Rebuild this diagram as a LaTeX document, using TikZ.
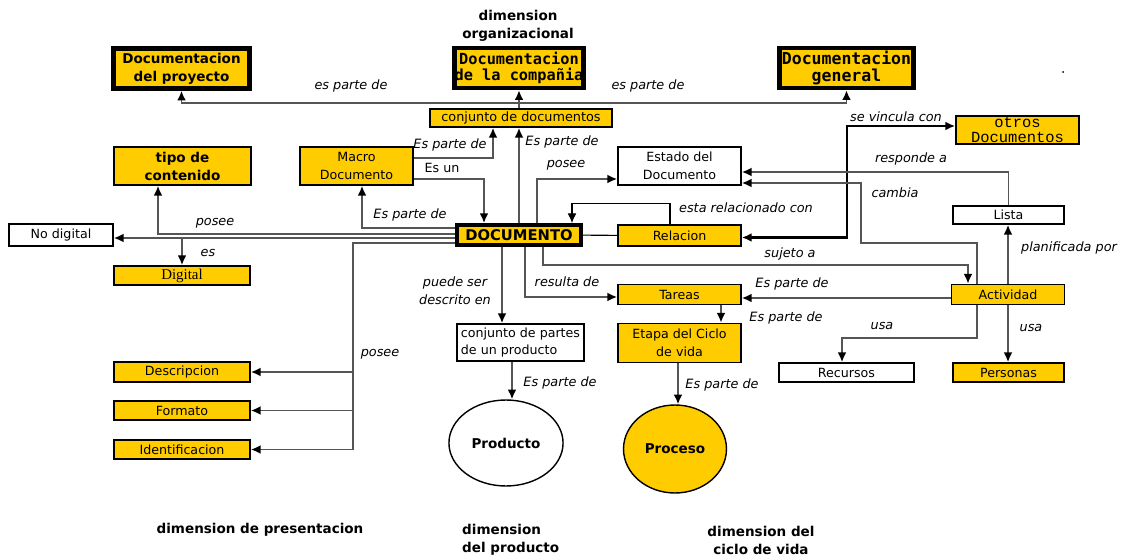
\documentclass[tikz,border=0pt]{standalone}
\usepackage{fontspec}
\setmainfont{DejaVu Sans}
\newfontfamily\monoancha{DejaVu Sans Mono}
\newfontfamily\monocour{Liberation Mono}
\newfontfamily\serifdig{Liberation Serif}
\usetikzlibrary{arrows.meta,shapes.geometric}
\definecolor{amarillo}{HTML}{FFCC00}
\definecolor{gristrazo}{HTML}{555555}
\newcommand{\letranormal}{\fontsize{7.2}{10}\selectfont}
\newcommand{\letrarel}{\fontsize{7.3}{10}\selectfont\itshape}
\newcommand{\letratit}{\fontsize{7.7}{10.2}\selectfont\bfseries}

\begin{document}
\begin{tikzpicture}[x=0.02cm,y=-0.02cm,font=\letranormal]
\tikzset{caja/.style={draw, fill=amarillo, line width=1pt, inner sep=0pt, align=center},
  blanca/.style={draw, fill=white, line width=1pt, inner sep=0pt, align=center},
  gruesa/.style={draw, fill=amarillo, line width=2.6pt, inner sep=0pt, align=center},
  rel/.style={font=\letrarel, inner sep=1pt},
  titdim/.style={font=\letratit, align=center},
  traza/.style={draw=gristrazo, line width=1pt},
  flecha/.style={traza, -{Latex[length=5.5pt,width=5pt,color=black]}},
  enlace/.style={draw=black, line width=0.6pt, -{Latex[length=5.5pt,width=5pt]}}}
\useasboundingbox (0,0) rectangle (1123,557);

\node[gruesa, minimum width=2.72cm, minimum height=0.8cm, font=\letratit] (proyecto) at (181.5,68.5) {Documentacion\\del proyecto};
\node[gruesa, minimum width=2.54cm, minimum height=0.8cm, font=\fontsize{8.7}{9.5}\selectfont\monoancha\bfseries] (compania) at (519,68) {Documentacion\\de la compañia};
\node[gruesa, minimum width=2.68cm, minimum height=0.8cm, font=\fontsize{9.4}{9.5}\selectfont\monoancha\bfseries] (general) at (846.5,68) {Documentacion\\general};
\node[titdim] (organizacional) at (518,26) {dimension\\organizacional};
\node[circle, fill=black, inner sep=0.4pt] (punto) at (1063,72) {};

\node[caja, minimum width=3.64cm, minimum height=0.36cm, font=\fontsize{7.3}{10}\selectfont] (conjdoc) at (521,118) {conjunto de documentos};
\node[caja, minimum width=2.74cm, minimum height=0.76cm, font=\letratit] (tipo) at (182.5,166) {tipo de\\contenido};
\node[caja, minimum width=2.26cm, minimum height=0.76cm] (macro) at (356.5,166) {Macro\\Documento};
\node[blanca, minimum width=2.46cm, minimum height=0.76cm] (estado) at (679.5,166) {Estado del\\Documento};
\node[caja, minimum width=2.46cm, minimum height=0.56cm, font=\fontsize{8.8}{9}\selectfont\monocour] (otros) at (1017.5,130) {otros\\Documentos};

\node[blanca, minimum width=2.08cm, minimum height=0.44cm] (nodigital) at (61,235) {No digital};
\node[caja, minimum width=2.72cm, minimum height=0.38cm, font=\fontsize{8.5}{9}\selectfont\serifdig] (digital) at (182,275.5) {Digital};
\node[gruesa, line width=2.2pt, minimum width=2.48cm, minimum height=0.4cm, font=\fontsize{8.4}{9}\selectfont\bfseries] (documento) at (519,235) {DOCUMENTO};
\node[caja, minimum width=2.46cm, minimum height=0.42cm] (relacion) at (679.5,235.5) {Relacion};
\node[blanca, minimum width=2.22cm, minimum height=0.36cm] (lista) at (1008.5,215) {Lista};
\node[caja, minimum width=2.46cm, minimum height=0.4cm] (tareas) at (679.5,294.5) {Tareas};
\node[caja, minimum width=2.26cm, minimum height=0.4cm] (actividad) at (1008,294.5) {Actividad};

\node[blanca, align=left, minimum width=2.54cm, minimum height=0.74cm] (partes) at (520.5,342.5) {conjunto de partes\\de un producto};
\node[caja, minimum width=2.46cm, minimum height=0.78cm] (etapa) at (679.5,343) {Etapa del Ciclo\\de vida};
\node[blanca, minimum width=2.7cm, minimum height=0.38cm] (recursos) at (846.5,372.5) {Recursos};
\node[caja, minimum width=2.22cm, minimum height=0.38cm] (personas) at (1008.5,372.5) {Personas};
\node[caja, minimum width=2.72cm, minimum height=0.4cm] (descripcion) at (182,372) {Descripcion};
\node[caja, minimum width=2.72cm, minimum height=0.38cm] (formato) at (182,410.5) {Formato};
\node[caja, minimum width=2.72cm, minimum height=0.38cm] (identificacion) at (182,449.5) {Identificacion};
\node[ellipse, draw, line width=0.8pt, minimum width=1.84cm, minimum height=1.72cm, font=\letratit] (producto) at (506,443) {Producto};
\node[ellipse, draw, fill=amarillo, line width=0.8pt, minimum width=2.06cm, minimum height=1.76cm, font=\letratit] (proceso) at (675,449) {Proceso};

\node[titdim] (presentacion) at (260,530) {dimension de presentacion};
\node[titdim, align=left, anchor=west] (dimproducto) at (456,540) {dimension\\del producto};
\node[titdim] (ciclo) at (761,540) {dimension del\\ciclo de vida};

\coordinate (bus) at (519,103);
\draw[flecha] (conjdoc.north -| compania.south) -- (compania.south);
\draw[flecha] (bus) -| (proyecto.south);
\draw[flecha] (bus) -| (general.south);
\node[rel] at (351,86) {es parte de};
\node[rel] at (648,86) {es parte de};

\draw[flecha] ([yshift=0.16cm]macro.east) -| ([xshift=-0.56cm]conjdoc.south);
\node[rel] at (450,145) {Es parte de};
\draw[flecha] ([yshift=-0.26cm]macro.east) -| ([xshift=-0.7cm]documento.north);
\node[inner sep=1pt] at (442,168) {Es un};
\draw[flecha] ([yshift=0.14cm]documento.west) -| ([xshift=0.11cm]macro.south);
\node[rel] at (410,215) {Es parte de};
\draw[flecha] (documento.north) -- (documento.north |- conjdoc.south);
\node[rel] at (562,142) {Es parte de};
\draw[flecha] ([xshift=0.36cm]documento.north) |- ([yshift=-0.26cm]estado.west);
\node[rel] at (566,165) {posee};

\draw[enlace] ([xshift=-0.19cm]relacion.north) -- ++(0,-21) -| ([xshift=1.06cm]documento.north);
\node[rel] at (746,208) {esta relacionado con};
\draw[black, line width=0.6pt] (documento) -- (relacion);
\draw[black, line width=1.2pt, {Latex[length=5.5pt,width=5pt]}-{Latex[length=5.5pt,width=5pt]}] ([yshift=-0.04cm]relacion.east) -- ++(105,0) |- ([yshift=0.08cm]otros.west);
\node[rel] at (896,117) {se vincula con};

\draw[flecha] (lista.north) |- ([yshift=-0.12cm]estado.east);
\node[rel] at (911,159) {responde a};
\draw[flecha] ([xshift=-0.62cm]actividad.north) |- (861,243) |- ([yshift=-0.34cm]estado.east);
\node[rel] at (895,193) {cambia};
\draw[flecha] (actividad.north) -- (actividad.north |- lista.south);
\node[rel] at (1069,248) {planificada por};
\draw[flecha] (actividad.south) -- (actividad.south |- personas.north);
\node[rel] at (1031,328) {usa};
\draw[flecha] ([xshift=-0.62cm]actividad.south) -- ++(0,33) -| ([xshift=-0.09cm]recursos.north);
\node[rel] at (882,326) {usa};
\draw[flecha] ([yshift=-0.07cm]actividad.west) -- ([yshift=-0.07cm]tareas.east);
\node[rel] at (792,284) {Es parte de};
\draw[flecha] ([xshift=0.83cm]tareas.south) -- ([xshift=0.83cm]etapa.north);
\node[rel] at (786,318) {Es parte de};

\draw[flecha] ([xshift=0.12cm]documento.south) |- ([yshift=-0.05cm]tareas.west);
\node[rel] at (567,282) {resulta de};
\draw[flecha] ([xshift=0.48cm]documento.south) -- ++(0,18) -| ([xshift=-0.8cm]actividad.north);
\node[rel] at (790,254) {sujeto a};
\draw[flecha] ([xshift=-0.34cm]documento.south) -- ([xshift=-0.34cm]documento.south |- partes.north);
\node[rel, align=center] at (455,291) {puede ser\\descrito en};
\draw[flecha] ([xshift=-0.17cm]partes.south) -- ([xshift=-0.17cm]partes.south |- producto.north);
\node[rel] at (560,383) {Es parte de};
\draw[flecha] ([xshift=-0.03cm]etapa.south) -- ([xshift=-0.03cm]etapa.south |- proceso.north);
\node[rel] at (722,385) {Es parte de};

\draw[flecha] ([yshift=0.02cm]documento.west) -| ([xshift=-0.49cm]tipo.south);
\node[rel] at (215,223) {posee};
\coordinate (nd) at ([yshift=-0.06cm]documento.west);
\draw[flecha] (nd) -- (nd -| nodigital.east);
\draw[flecha] (nd -| digital.north) -- (digital.north);
\node[rel] at (208,253) {es};
\coordinate (ps) at ([yshift=-0.16cm]documento.west);
\coordinate (vpos) at (353,449.5);
\draw[traza] (ps) -| (vpos);
\draw[flecha] (vpos |- descripcion.east) -- (descripcion.east);
\draw[flecha] (vpos |- formato.east) -- (formato.east);
\draw[flecha] (vpos) -- (identificacion.east);
\node[rel] at (380,354) {posee};
\end{tikzpicture}
\end{document}
